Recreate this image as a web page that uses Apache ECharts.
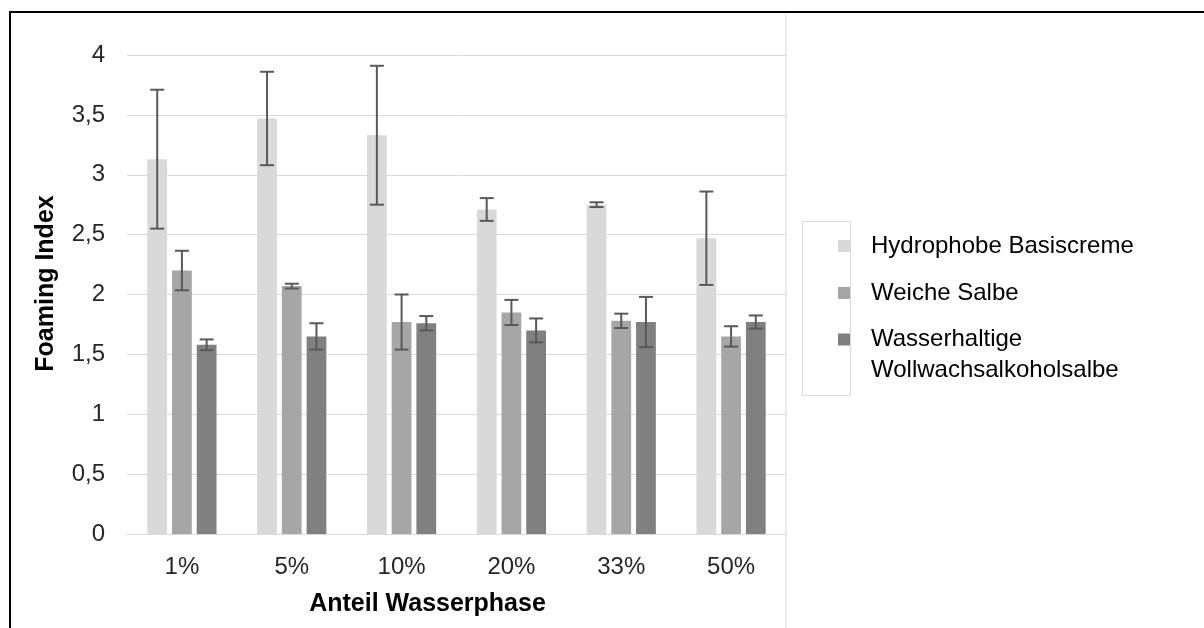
<!DOCTYPE html>
<html>
<head>
<meta charset="utf-8">
<script src="https://cdn.jsdelivr.net/npm/echarts@6/dist/echarts.min.js"></script>
<style>html,body{margin:0;padding:0;background:#fff}#chart{width:1204px;height:628px}</style>
</head>
<body>
<div id="chart"></div>
<script>
const categories = ['1%', '5%', '10%', '20%', '33%', '50%'];
const seriesNames = ['Hydrophobe Basiscreme', 'Weiche Salbe', 'Wasserhaltige Wollwachsalkoholsalbe'];
const hydrophobe = [3.13, 3.47, 3.33, 2.71, 2.75, 2.47];
const hydrophobeErr = [0.58, 0.39, 0.58, 0.095, 0.02, 0.39];
const weiche = [2.20, 2.07, 1.77, 1.85, 1.78, 1.65];
const weicheErr = [0.165, 0.02, 0.23, 0.105, 0.06, 0.085];
const wasser = [1.58, 1.65, 1.76, 1.70, 1.77, 1.77];
const wasserErr = [0.045, 0.11, 0.06, 0.10, 0.21, 0.055];
const yTicks = [0, 0.5, 1, 1.5, 2, 2.5, 3, 3.5, 4];

const colors = ['#d9d9d9', '#a6a6a6', '#808080'];
const values = [hydrophobe, weiche, wasser];
const errs = [hydrophobeErr, weicheErr, wasserErr];
const BAR_W = 0.18, BAR_GAP = 0.25;
const FONT = '"Liberation Sans", Arial, sans-serif';

const chart = echarts.init(document.getElementById('chart'));

const barSeries = values.map((v, i) => ({
  name: seriesNames[i],
  type: 'bar',
  data: v,
  barWidth: (BAR_W * 100) + '%',
  barGap: (BAR_GAP * 100) + '%',
  itemStyle: { color: colors[i] },
  emphasis: { disabled: true }
}));

const errSeries = values.map((v, i) => ({
  name: seriesNames[i],
  type: 'custom',
  data: v.map((m, k) => [k, m - errs[i][k], m + errs[i][k]]),
  z: 5,
  renderItem: function (params, api) {
    const band = api.size([1, 0])[0];
    const bw = band * BAR_W;
    const off = (i - 1) * bw * (1 + BAR_GAP);
    const lo = api.coord([api.value(0), api.value(1)]);
    const hi = api.coord([api.value(0), api.value(2)]);
    const x = lo[0] + off;
    const cap = 7;
    const style = { stroke: '#595959', lineWidth: 2 };
    return {
      type: 'group',
      children: [
        { type: 'line', shape: { x1: x, y1: lo[1], x2: x, y2: hi[1] }, style: style },
        { type: 'line', shape: { x1: x - cap, y1: lo[1], x2: x + cap, y2: lo[1] }, style: style },
        { type: 'line', shape: { x1: x - cap, y1: hi[1], x2: x + cap, y2: hi[1] }, style: style }
      ]
    };
  }
}));

chart.setOption({
  animation: false,
  backgroundColor: '#fff',
  grid: { left: 127, right: 418, top: 55, bottom: 94 },
  legend: [
    {
      orient: 'vertical', left: 838, top: 232, padding: 0,
      itemWidth: 12, itemHeight: 12, itemGap: 19, icon: 'rect',
      data: [seriesNames[0], seriesNames[1]],
      textStyle: { fontFamily: FONT, fontSize: 24, color: '#000', lineHeight: 28, padding: [0, 0, 0, 16] },
      selectedMode: false
    },
    {
      orient: 'vertical', left: 838, top: 293, padding: 0,
      itemWidth: 12, itemHeight: 12, icon: 'rect',
      data: [seriesNames[1 + 1]],
      formatter: function (n) { return '\n' + n.replace(' ', '\n'); },
      textStyle: { fontFamily: FONT, fontSize: 24, color: '#000', lineHeight: 31, padding: [0, 0, 0, 16] },
      selectedMode: false
    }
  ],
  xAxis: {
    type: 'category',
    data: categories,
    name: 'Anteil Wasserphase',
    nameLocation: 'middle',
    nameGap: 58,
    nameTextStyle: { fontFamily: FONT, fontSize: 25, fontWeight: 'bold', color: '#000', padding: [0, 58, 0, 0] },
    axisLine: { lineStyle: { color: '#d9d9d9', width: 1 } },
    axisTick: { show: false },
    axisLabel: { fontFamily: FONT, fontSize: 24, color: '#262626', margin: 21 }
  },
  yAxis: {
    type: 'value',
    min: yTicks[0],
    max: yTicks[yTicks.length - 1],
    interval: 0.5,
    name: 'Foaming Index',
    nameLocation: 'middle',
    nameGap: 68,
    nameTextStyle: { fontFamily: FONT, fontSize: 25, fontWeight: 'bold', color: '#000', padding: [0, 0, 0, 22] },
    splitLine: { lineStyle: { color: '#d9d9d9', width: 1 } },
    axisLine: { show: false },
    axisTick: { show: false },
    axisLabel: {
      fontFamily: FONT, fontSize: 24, color: '#262626', margin: 22,
      formatter: function (v) { return String(v).replace('.', ','); }
    }
  },
  graphic: [
    { type: 'rect', shape: { x: 10, y: 12, width: 1220, height: 700 }, style: { fill: 'none', stroke: '#000', lineWidth: 2 }, silent: true },
    { type: 'line', shape: { x1: 786, y1: 13, x2: 786, y2: 628 }, style: { stroke: '#d9d9d9', lineWidth: 1 }, silent: true },
    { type: 'rect', shape: { x: 802.5, y: 221.5, width: 48, height: 174 }, style: { fill: 'none', stroke: '#d9d9d9', lineWidth: 1 }, silent: true, z: 10 }
  ],
  series: barSeries.concat(errSeries)
});
</script>
</body>
</html>
